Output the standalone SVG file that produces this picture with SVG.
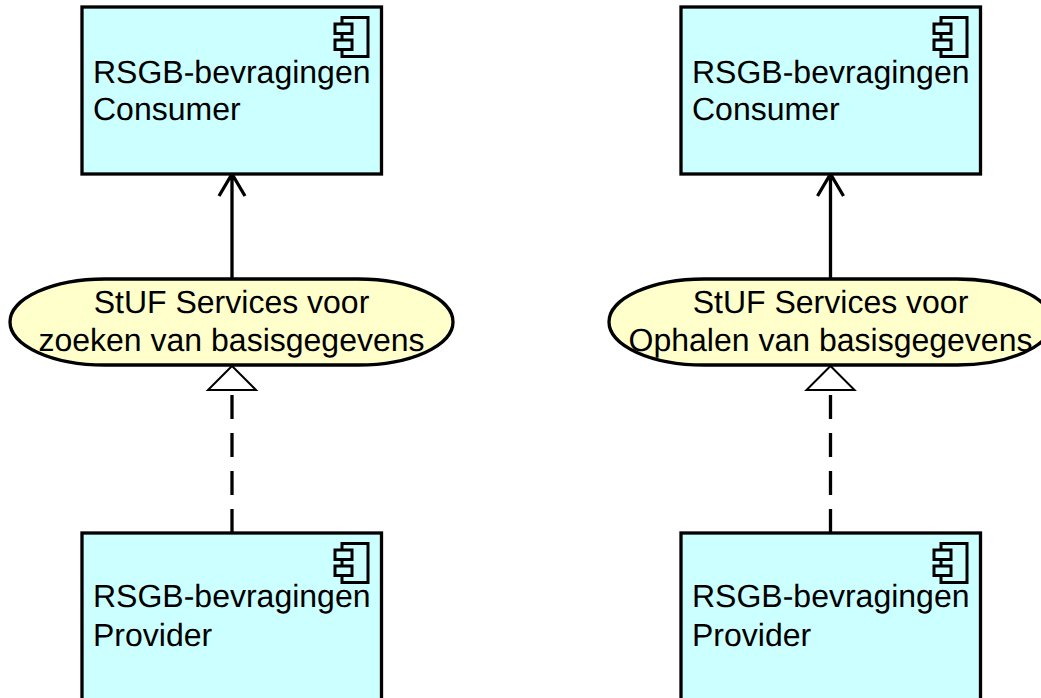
<svg xmlns="http://www.w3.org/2000/svg" width="1041" height="698" viewBox="0 0 1041 698">
<style>
.box{fill:#ccffff;stroke:#000;stroke-width:3.300}
.ico{fill:#ccffff;stroke:#000;stroke-width:3}
.ell{fill:#ffffcc;stroke:#000;stroke-width:3.300}
.t{font-family:"Liberation Sans",Arial,sans-serif;font-size:32px;fill:#000;text-rendering:geometricPrecision}
.m{text-anchor:middle}
.c{fill:none;stroke:#000;stroke-width:3.300}
.d{stroke-dasharray:24 14}
.tri{fill:#fff;stroke:#000;stroke-width:2}
</style>
<defs>
<g id="icon">
<rect class="ico" x="342" y="17.500" width="26" height="39"/>
<rect class="ico" x="335" y="24" width="17" height="9.500"/>
<rect class="ico" x="335" y="40" width="17" height="9.500"/>
</g>
</defs>
<rect width="1041" height="698" fill="#fff"/>
<g id="connectors">
<path class="c" d="M232 279V174M219 196L232 174L245 196"/>
<path class="c d" d="M232 533V395"/>
<path class="tri" d="M232 366L256 390H208Z"/>
<path class="c" d="M830.500 279V174M817.500 196L830.500 174L843.500 196"/>
<path class="c d" d="M830.500 533V395"/>
<path class="tri" d="M830.500 366L854.500 390H806.500Z"/>
</g>
<g id="consumer-left">
<rect class="box" x="82" y="7" width="299.500" height="167"/>
<use href="#icon"/>
<text class="t" x="93" y="83">RSGB-bevragingen</text>
<text class="t" x="93" y="120">Consumer</text>
</g>
<g id="service-left">
<rect class="ell" x="10" y="279" width="443" height="86" rx="95" ry="43"/>
<text class="t m" x="231.500" y="313">StUF Services voor</text>
<text class="t m" x="231.500" y="351">zoeken van basisgegevens</text>
</g>
<g id="provider-left">
<rect class="box" x="82" y="533" width="299.500" height="175"/>
<use href="#icon" y="526"/>
<text class="t" x="93" y="607">RSGB-bevragingen</text>
<text class="t" x="93" y="646">Provider</text>
</g>
<g id="consumer-right">
<rect class="box" x="681" y="7" width="299.500" height="167"/>
<use href="#icon" x="599"/>
<text class="t" x="692" y="83">RSGB-bevragingen</text>
<text class="t" x="692" y="120">Consumer</text>
</g>
<g id="service-right">
<rect class="ell" x="609" y="279" width="443" height="86" rx="95" ry="43"/>
<text class="t m" x="830.500" y="313">StUF Services voor</text>
<text class="t m" x="830.500" y="351">Ophalen van basisgegevens</text>
</g>
<g id="provider-right">
<rect class="box" x="681" y="533" width="299.500" height="175"/>
<use href="#icon" x="599" y="526"/>
<text class="t" x="692" y="607">RSGB-bevragingen</text>
<text class="t" x="692" y="646">Provider</text>
</g>
</svg>
